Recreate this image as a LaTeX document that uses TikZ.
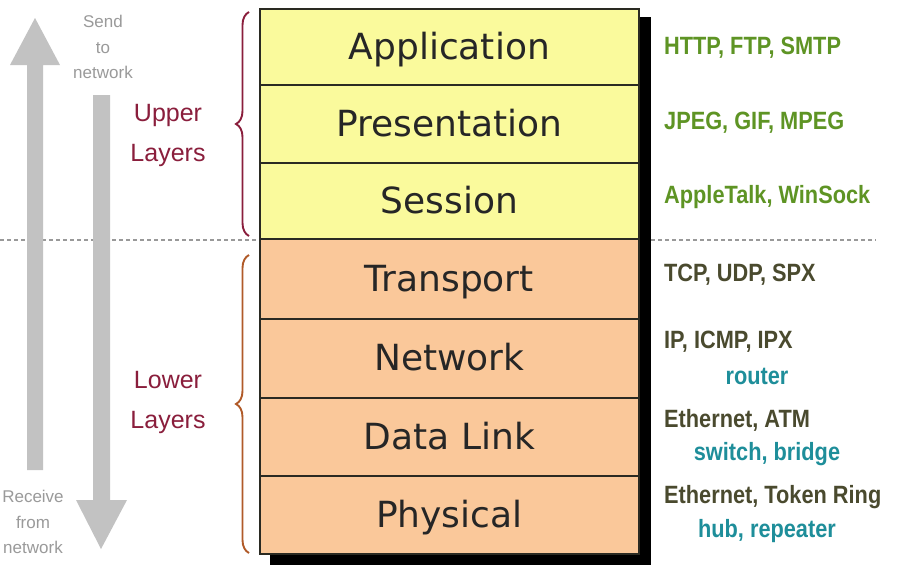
\documentclass[tikz,border=0pt]{standalone}
\usepackage{fontspec}
\usetikzlibrary{decorations.pathreplacing}
\newfontfamily\layerfont{DejaVu Sans}
\newfontfamily\arialfont{Liberation Sans}
\definecolor{upfill}{HTML}{FAFA9C}
\definecolor{lowfill}{HTML}{FAC89A}
\definecolor{boxline}{HTML}{2A2A22}
\definecolor{maroon}{HTML}{8A1E3C}
\definecolor{lowbrace}{HTML}{B05A28}
\definecolor{arrowgray}{HTML}{C2C2C2}
\definecolor{textgray}{HTML}{9A9A9A}
\definecolor{protogreen}{HTML}{5E9424}
\definecolor{protodark}{HTML}{4A4A2E}
\definecolor{devteal}{HTML}{1E8E9A}
\tikzset{
  layerbox/.style={draw=boxline, line width=1.6pt, minimum width=379pt, inner sep=0pt,
    text height=30pt, text depth=5pt,
    anchor=north west, font=\layerfont\fontsize{36}{40}\selectfont, text=black!85},
  grouplabel/.style={font=\arialfont\fontsize{25}{40}\selectfont, text=maroon, align=center},
  sidetext/.style={font=\arialfont\fontsize{17}{25.5}\selectfont, text=textgray, align=center},
  proto/.style={font=\arialfont\bfseries\fontsize{25}{28}\selectfont, xscale=0.87, transform shape, inner sep=0pt},
}
\begin{document}
\begin{tikzpicture}[x=1pt,y=-1pt]
\useasboundingbox (0,0) rectangle (902,568);
\fill[white] (0,0) rectangle (902,568);
% dashed separator
\draw[gray!80, line width=1.6pt, dash pattern=on 4pt off 3pt] (0,240) -- (876,240);
% gray arrows
\fill[arrowgray] (27,470) -- (27,65) -- (10,65) -- (35,18) -- (60,65) -- (43,65) -- (43,470) -- cycle;
\fill[arrowgray] (93,95) -- (93,500) -- (76,500) -- (101,549) -- (127,500) -- (110,500) -- (110,95) -- cycle;
\node[sidetext] (send) at (103,47) {Send\\to\\network};
\node[sidetext] (recv) at (33,522) {Receive\\from\\network};
% shadow
\fill[black] (270,17) rectangle (651,565);
% layers
\node[layerbox, fill=upfill, minimum height=76pt] (app) at (259,8) {Application};
\node[layerbox, fill=upfill, minimum height=78pt] (pres) at (259,84) {Presentation};
\node[layerbox, fill=upfill, minimum height=76pt] (sess) at (259,162) {Session};
\node[layerbox, fill=lowfill, minimum height=80pt] (trans) at (259,238) {Transport};
\node[layerbox, fill=lowfill, minimum height=79pt] (net) at (259,318) {Network};
\node[layerbox, fill=lowfill, minimum height=78pt] (dl) at (259,397) {Data Link};
\node[layerbox, fill=lowfill, minimum height=78pt] (phys) at (259,475) {Physical};
% braces
\coordinate (ubt) at (249,12);
\coordinate (ubb) at (249,236);
\coordinate (lbt) at (249,255);
\coordinate (lbb) at (249,553);
\draw[maroon, line width=1.9pt, decorate, decoration={brace, amplitude=13pt}] (ubb) -- (ubt);
\draw[lowbrace, line width=1.9pt, decorate, decoration={brace, amplitude=13pt, aspect=0.5}] (lbb) -- (lbt);
\node[grouplabel] (upper) at (168,135) {Upper\\Layers};
\node[grouplabel] (lower) at (168,402) {Lower\\Layers};
% protocols
\node[proto, text=protogreen, anchor=west] (p1) at (664,48) {HTTP, FTP, SMTP};
\node[proto, text=protogreen, anchor=west] (p2) at (664,123) {JPEG, GIF, MPEG};
\node[proto, text=protogreen, anchor=west] (p3) at (664,197) {AppleTalk, WinSock};
\node[proto, text=protodark, anchor=west] (p4) at (664,275) {TCP, UDP, SPX};
\node[proto, text=protodark, anchor=west] (p5) at (664,342) {IP, ICMP, IPX};
\node[proto, text=devteal] (d5) at (757,376) {router};
\node[proto, text=protodark, anchor=west] (p6) at (664,420) {Ethernet, ATM};
\node[proto, text=devteal] (d6) at (767,454) {switch, bridge};
\node[proto, text=protodark, anchor=west] (p7) at (664,497) {Ethernet, Token Ring};
\node[proto, text=devteal] (d7) at (767,531) {hub, repeater};
\end{tikzpicture}
\end{document}
